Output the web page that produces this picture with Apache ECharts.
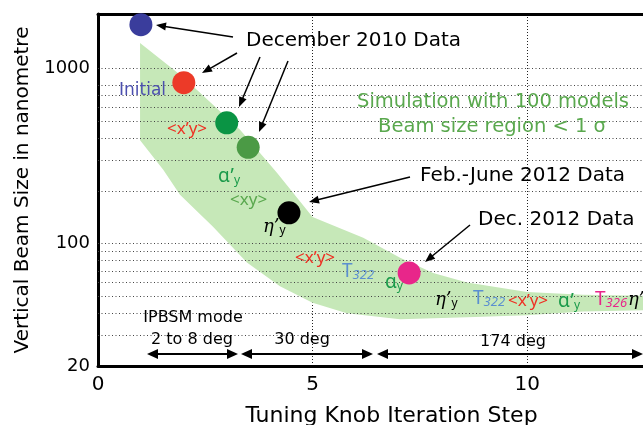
<!DOCTYPE html>
<html>
<head>
<meta charset="utf-8">
<script src="https://cdn.jsdelivr.net/npm/echarts@6/dist/echarts.min.js"></script>
<style>
  html, body { margin: 0; padding: 0; background: #fff; }
  #main { width: 643px; height: 425px; }
</style>
</head>
<body>
<div id="main"></div>
<script>
// measured beam size at each tuning step
var steps = [1, 2, 3, 3.5, 4.45, 7.25];
var beamSize = [1780, 830, 490, 355, 150, 68];
var pointColors = ['#3a3d9c', '#ec3a28', '#0a9444', '#4b9a45', '#000000', '#e8268a'];

// simulation with 100 models, beam size region < 1 sigma
var bandUpper = [[0.98, 1400], [1.98, 896], [3.31, 447], [4.17, 254], [5.0, 142], [6.18, 108],
  [7.04, 83], [7.81, 68], [8.6, 60], [10, 53], [11.3, 51], [13.7, 50]];
var bandLower = [[0.98, 390], [1.52, 264], [1.91, 190], [2.68, 125], [3.47, 78], [4.24, 57],
  [5.0, 46], [5.8, 40], [7.04, 37], [8.6, 38], [10, 39], [11.3, 41], [13.7, 42]];

// dotted horizontal guide lines
var gridValues = [30, 40, 50, 60, 70, 80, 90, 100, 200, 300, 400, 500, 600, 700, 800, 1000];
var yTickLabels = [20, 100, 1000];

var FONT = "'DejaVu Sans', sans-serif";
var KNOB = "'Noto Sans', sans-serif";
var chart = echarts.init(document.getElementById('main'));

function txt(x, y, str, size, color, align, rich, family) {
  return {
    type: 'text', x: x, y: y, z: 50,
    style: {
      text: str, fontSize: size, fill: color, fontFamily: family || FONT,
      align: align || 'left', verticalAlign: 'middle', rich: rich
    }
  };
}

// sub-scripted knob names
function knobRich(color) {
  return {
    a: { fontSize: 19, fill: color, fontFamily: KNOB },
    e: { fontSize: 18, fill: color, fontFamily: 'DejaVu Serif', fontStyle: 'italic' },
    s: { fontSize: 12, fill: color, fontFamily: KNOB, padding: [8, 0, 0, 0] },
    t: { fontSize: 19, fill: color, fontFamily: KNOB },
    n: { fontSize: 13, fill: color, fontFamily: KNOB, fontStyle: 'italic', padding: [6, 0, 0, 0] }
  };
}

function arrow(x1, y1, x2, y2, w, hl, hw) {
  var dx = x2 - x1, dy = y2 - y1, L = Math.sqrt(dx * dx + dy * dy);
  var ux = dx / L, uy = dy / L;
  var bx = x2 - ux * hl, by = y2 - uy * hl;
  return [
    { type: 'line', z: 50, shape: { x1: x1, y1: y1, x2: bx + ux, y2: by + uy }, style: { stroke: '#000', lineWidth: w } },
    { type: 'polygon', z: 50, shape: { points: [[x2, y2], [bx - uy * hw, by + ux * hw], [bx + uy * hw, by - ux * hw]] }, style: { fill: '#000' } }
  ];
}
function dblArrow(x1, x2, y) {
  return arrow(x1 + 10, y, x2, y, 2, 11, 5).concat(arrow(x2 - 10, y, x1, y, 2, 11, 5));
}

var graphics = [
  txt(246, 41, 'December 2010 Data', 20, '#000'),
  txt(119, 91, 'Initial', 17, '#4b4fae'),
  txt(167, 129, '<x’y>', 17, '#ee3124', 'left', null, KNOB),
  txt(218, 177, '{a|α’}{s|y}', 16, '#1a9a4a', 'left', knobRich('#1a9a4a')),
  txt(230, 200, '<xy>', 17, '#5aa84e', 'left', null, KNOB),
  txt(263, 227, '{e|η’}{s|y}', 16, '#000', 'left', knobRich('#000')),
  txt(493, 102, 'Simulation with 100 models', 19.5, '#5aa84e', 'center'),
  txt(492, 127, 'Beam size region < 1 σ', 19.5, '#5aa84e', 'center'),
  txt(420, 176, 'Feb.-June 2012 Data', 20, '#000'),
  txt(478, 220, 'Dec. 2012 Data', 20, '#000'),
  txt(295, 258, '<x’y>', 17, '#ee3124', 'left', null, KNOB),
  txt(342, 272, '{t|T}{n|322}', 16, '#5b8fd0', 'left', knobRich('#5b8fd0')),
  txt(385, 283, '{a|α}{s|y}', 16, '#1a9a4a', 'left', knobRich('#1a9a4a')),
  txt(435, 300, '{e|η’}{s|y}', 16, '#000', 'left', knobRich('#000')),
  txt(473, 299, '{t|T}{n|322}', 16, '#5b8fd0', 'left', knobRich('#5b8fd0')),
  txt(508, 301, '<x’y>', 17, '#ee3124', 'left', null, KNOB),
  txt(558, 302, '{a|α’}{s|y}', 16, '#1a9a4a', 'left', knobRich('#1a9a4a')),
  txt(595, 300, '{t|T}{n|326}', 16, '#e8268a', 'left', knobRich('#e8268a')),
  txt(628, 300, '{e|η’}', 16, '#000', 'left', knobRich('#000')),
  txt(193, 318, 'IPBSM mode', 16, '#000', 'center'),
  txt(192, 340, '2 to 8 deg', 16, '#000', 'center'),
  txt(302, 340, '30 deg', 16, '#000', 'center'),
  txt(513, 342, '174 deg', 16, '#000', 'center')
]
  .concat(arrow(233, 37, 156, 25, 1.5, 10, 4))
  .concat(arrow(237, 53, 202, 73, 1.5, 10, 4))
  .concat(arrow(260, 57, 239, 107, 1.5, 10, 4))
  .concat(arrow(288, 61, 259, 132, 1.5, 10, 4))
  .concat(arrow(410, 177, 309, 202, 1.5, 10, 4))
  .concat(arrow(470, 225, 425, 262, 1.5, 10, 4))
  .concat(dblArrow(147, 238, 354))
  .concat(dblArrow(241, 373, 354))
  .concat(dblArrow(377, 643, 354));

var option = {
  animation: false,
  textStyle: { fontFamily: FONT },
  grid: { left: 98, top: 14, right: 0, bottom: 59, outerBoundsMode: 'none' },
  xAxis: [{
    type: 'value', min: 0, max: 12.7, interval: 5,
    name: 'Tuning Knob Iteration Step', nameLocation: 'middle', nameGap: 39,
    nameTextStyle: { fontSize: 22, color: '#000', padding: [0, 0, 0, 42] },
    axisLine: { lineStyle: { color: '#000', width: 3 } },
    axisTick: { show: false },
    axisLabel: { fontSize: 20, color: '#000', margin: 9, showMaxLabel: false },
    splitLine: { show: true, lineStyle: { type: [1, 2], color: '#222', width: 1 } }
  }, {
    type: 'value', min: 0, max: 12.7, position: 'top',
    axisLine: { show: true, lineStyle: { color: '#000', width: 3 } },
    axisTick: { show: false }, axisLabel: { show: false }, splitLine: { show: false }
  }],
  yAxis: {
    type: 'log', logBase: 10, min: 20, max: 2050,
    name: 'Vertical Beam Size in nanometre', nameLocation: 'middle', nameGap: 53,
    nameTextStyle: { fontSize: 20, color: '#000' },
    axisLine: { show: true, lineStyle: { color: '#000', width: 3 } },
    axisTick: { show: false },
    splitLine: { show: false },
    axisLabel: {
      fontSize: 18, color: '#000', margin: 8,
      formatter: function (v) {
        var r = Math.round(v);
        return yTickLabels.indexOf(r) >= 0 ? String(r) : '';
      }
    }
  },
  series: [
    {
      type: 'custom', z: 1, clip: true, silent: true,
      data: [[1, 100]],
      renderItem: function (params, api) {
        var pts = bandUpper.map(function (p) { return api.coord(p); })
          .concat(bandLower.slice().reverse().map(function (p) { return api.coord(p); }));
        return { type: 'polygon', shape: { points: pts }, style: { fill: '#c6e8b8' } };
      },
      markLine: {
        silent: true, symbol: ['none', 'none'], z: 2,
        label: { show: false },
        lineStyle: { type: [1, 2.5], color: '#444', width: 1 },
        data: gridValues.map(function (v) { return { yAxis: v }; })
      }
    },
    {
      type: 'scatter', z: 5, symbolSize: 23,
      data: steps.map(function (s, i) {
        return { value: [s, beamSize[i]], itemStyle: { color: pointColors[i], opacity: 1 } };
      })
    }
  ],
  graphic: graphics
};
chart.setOption(option);
</script>
</body>
</html>
